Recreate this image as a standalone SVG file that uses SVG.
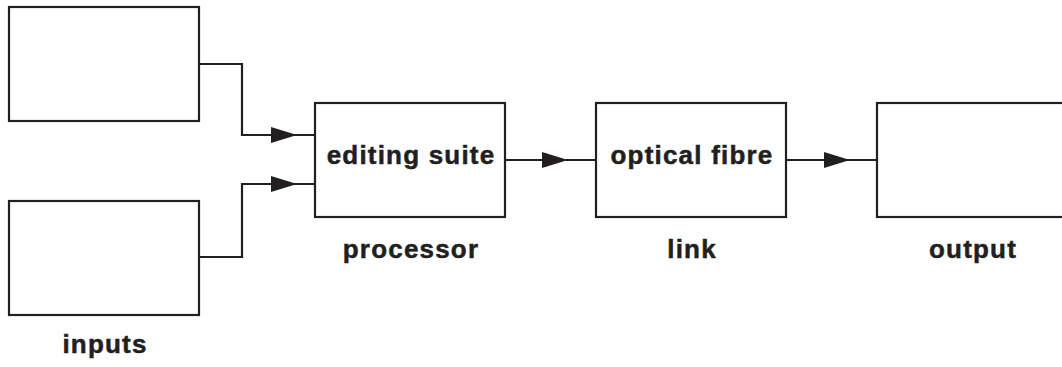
<svg xmlns="http://www.w3.org/2000/svg" xmlns:xlink="http://www.w3.org/1999/xlink" width="1062" height="367" viewBox="0 0 1062 367">
<style>
.box{fill:#fff;stroke:#231f20;stroke-width:2.2}
.wire{fill:none;stroke:#231f20;stroke-width:2.2}
.ah{fill:#231f20}
.lbl{font-family:"Liberation Sans",Arial,Helvetica,sans-serif;font-weight:bold;font-size:26px;letter-spacing:1.2px;fill:#231f20;stroke:#231f20;stroke-width:0.5px;text-anchor:middle}
</style>
<defs>
<path id="arrowhead" class="ah" d="M0,0 L-26,-8 L-26,8 Z"/>
</defs>
<rect width="1062" height="367" fill="#fff"/>
<g id="connectors">
<path class="wire" d="M199,64 H242 V135 H315"/>
<path class="wire" d="M199,257 H242 V184 H315"/>
<path class="wire" d="M505,160 H596"/>
<path class="wire" d="M786,160 H877"/>
<use xlink:href="#arrowhead" x="297" y="135"/>
<use xlink:href="#arrowhead" x="297" y="184"/>
<use xlink:href="#arrowhead" x="568" y="160"/>
<use xlink:href="#arrowhead" x="850" y="160"/>
</g>
<g id="input1">
<rect class="box" x="9" y="7" width="190" height="114"/>
</g>
<g id="input2">
<rect class="box" x="9" y="201" width="190" height="114"/>
<text class="lbl" x="105" y="353">inputs</text>
</g>
<g id="processor">
<rect class="box" x="315" y="103" width="190" height="114"/>
<text class="lbl" x="411" y="164">editing suite</text>
<text class="lbl" x="411" y="258">processor</text>
</g>
<g id="link">
<rect class="box" x="596" y="103" width="190" height="114"/>
<text class="lbl" x="692" y="164">optical fibre</text>
<text class="lbl" x="692" y="258">link</text>
</g>
<g id="output">
<rect class="box" x="877" y="103" width="200" height="114"/>
<text class="lbl" x="973" y="258">output</text>
</g>
</svg>
